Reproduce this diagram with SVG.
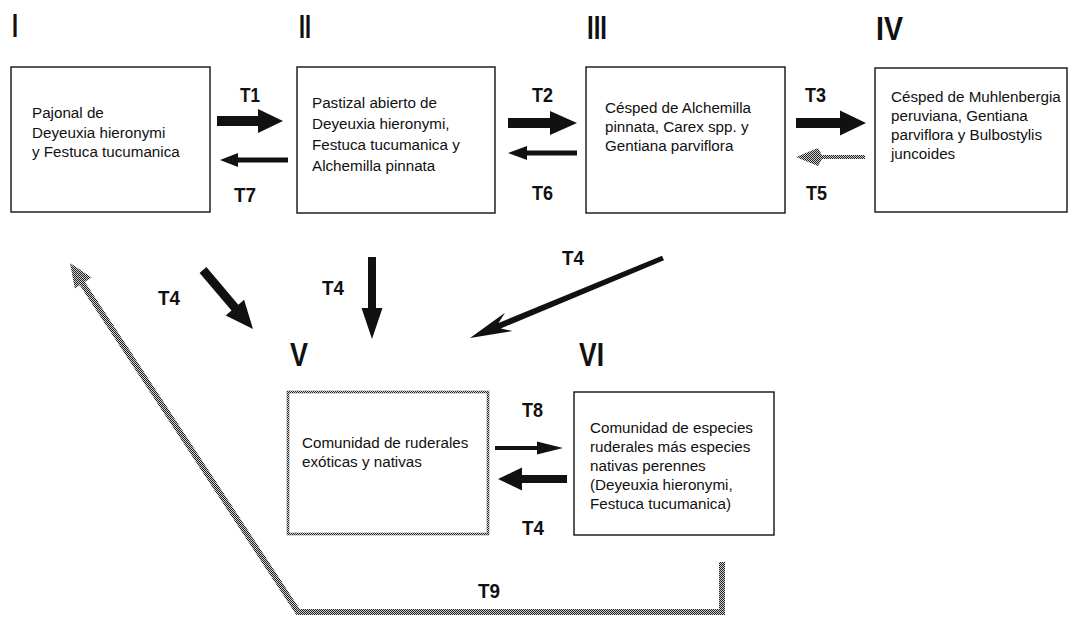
<svg xmlns="http://www.w3.org/2000/svg" width="1072" height="622" viewBox="0 0 1072 622">
<style>
  .box { fill: #fff; stroke: #111; stroke-width: 1.4; }
  .sbox { fill: #fff; stroke: url(#stip); stroke-width: 2.6; }
  .txt { font-family: "Liberation Sans", Arial, sans-serif; font-size: 15.2px; fill: #111; }
  .num { font-family: "Liberation Sans Narrow", "Liberation Sans", Arial, sans-serif; font-size: 33px; font-weight: bold; fill: #111; }
  .lbl { font-family: "Liberation Sans Narrow", "Liberation Sans", Arial, sans-serif; font-size: 19.5px; font-weight: bold; fill: #111; }
  .arr { fill: #111; }
  .sarr { fill: url(#stip); }
</style>
<defs>
  <pattern id="stip" width="2" height="2" patternUnits="userSpaceOnUse">
    <rect width="2" height="2" fill="#d0d0d0"/>
    <rect width="1" height="1" fill="#222"/>
    <rect x="1" y="1" width="1" height="1" fill="#222"/>
  </pattern>
</defs>
<rect width="1072" height="622" fill="#fff"/>

<g id="node-I">
  <text class="num" x="12" y="37" textLength="6" lengthAdjust="spacingAndGlyphs">I</text>
  <rect class="box" x="11" y="67" width="199" height="145"/>
  <text class="txt" x="32" y="118">Pajonal de</text>
  <text class="txt" x="32" y="138">Deyeuxia hieronymi</text>
  <text class="txt" x="32" y="157">y Festuca tucumanica</text>
</g>
<g id="node-II">
  <text class="num" x="299" y="38" textLength="12" lengthAdjust="spacingAndGlyphs">II</text>
  <rect class="box" x="297" y="67" width="198" height="146"/>
  <text class="txt" x="312" y="108">Pastizal abierto de</text>
  <text class="txt" x="312" y="129">Deyeuxia hieronymi,</text>
  <text class="txt" x="312" y="150">Festuca tucumanica y</text>
  <text class="txt" x="312" y="171">Alchemilla pinnata</text>
</g>
<g id="node-III">
  <text class="num" x="587" y="39" textLength="20" lengthAdjust="spacingAndGlyphs">III</text>
  <rect class="box" x="586" y="67" width="199" height="146"/>
  <text class="txt" x="605" y="113">Césped de Alchemilla</text>
  <text class="txt" x="605" y="132">pinnata, Carex spp. y</text>
  <text class="txt" x="605" y="151">Gentiana parviflora</text>
</g>
<g id="node-IV">
  <text class="num" x="876" y="40" textLength="27" lengthAdjust="spacingAndGlyphs">IV</text>
  <rect class="box" x="875" y="68" width="192" height="144"/>
  <text class="txt" x="891" y="102">Césped de Muhlenbergia</text>
  <text class="txt" x="891" y="121">peruviana, Gentiana</text>
  <text class="txt" x="891" y="140">parviflora y Bulbostylis</text>
  <text class="txt" x="891" y="159">juncoides</text>
</g>
<g id="node-V">
  <text class="num" x="290" y="366" textLength="18" lengthAdjust="spacingAndGlyphs">V</text>
  <rect class="sbox" x="288" y="392" width="200" height="142"/>
  <text class="txt" x="302" y="448">Comunidad de ruderales</text>
  <text class="txt" x="302" y="467">exóticas y nativas</text>
</g>
<g id="node-VI">
  <text class="num" x="579" y="366" textLength="25" lengthAdjust="spacingAndGlyphs">VI</text>
  <rect class="box" x="574" y="392" width="200" height="143"/>
  <text class="txt" x="590" y="433">Comunidad de especies</text>
  <text class="txt" x="590" y="452">ruderales más especies</text>
  <text class="txt" x="590" y="471">nativas perennes</text>
  <text class="txt" x="590" y="490">(Deyeuxia hieronymi,</text>
  <text class="txt" x="590" y="509">Festuca tucumanica)</text>
</g>

<g id="connectors">
  <!-- T1 -->
  <polygon class="arr" points="217,116 258,116 258,109 283,121 258,133 258,126 217,126"/>
  <text class="lbl" x="240" y="102" textLength="20" lengthAdjust="spacingAndGlyphs">T1</text>
  <!-- T7 -->
  <polygon class="arr" points="288,157.5 238,157.5 238,153 220,160 238,167 238,162.5 288,162.5"/>
  <text class="lbl" x="234" y="202" textLength="22" lengthAdjust="spacingAndGlyphs">T7</text>
  <!-- T2 -->
  <polygon class="arr" points="508,118 550,118 550,111 577,123 550,135 550,128 508,128"/>
  <text class="lbl" x="532" y="102" textLength="21" lengthAdjust="spacingAndGlyphs">T2</text>
  <!-- T6 -->
  <polygon class="arr" points="577,150.5 527,150.5 527,146 508,153 527,160 527,155.5 577,155.5"/>
  <text class="lbl" x="532" y="200" textLength="21" lengthAdjust="spacingAndGlyphs">T6</text>
  <!-- T3 -->
  <polygon class="arr" points="796,118 840,118 840,110.5 866,123 840,135.5 840,128 796,128"/>
  <text class="lbl" x="805" y="102" textLength="21" lengthAdjust="spacingAndGlyphs">T3</text>
  <!-- T5 -->
  <polygon class="sarr" points="865,155 822,155 818,148 796,157 818,166 822,159 865,159"/>
  <text class="lbl" x="806" y="200" textLength="21" lengthAdjust="spacingAndGlyphs">T5</text>
  <!-- T4 from I to V -->
  <polygon class="arr" points="206.4,267.1 238.3,304.7 244.1,299.8 253,329 225.7,315.4 231.5,310.5 199.6,272.9"/>
  <text class="lbl" x="158" y="305" textLength="22" lengthAdjust="spacingAndGlyphs">T4</text>
  <!-- T4 from II to V -->
  <polygon class="arr" points="368,257 376,257 376,308 382.5,308 372,339 361.5,308 368,308"/>
  <text class="lbl" x="322" y="295" textLength="22" lengthAdjust="spacingAndGlyphs">T4</text>
  <!-- T4 from III to V -->
  <polygon class="arr" points="662,255.7 498.5,322.9 505,312.7 470,338 512.6,331.1 500.7,328.5 664,260.3"/>
  <text class="lbl" x="562" y="265" textLength="22" lengthAdjust="spacingAndGlyphs">T4</text>
  <!-- T8 -->
  <polygon class="arr" points="495,446 537,446 537,441.5 563,448 537,454.5 537,450 495,450"/>
  <text class="lbl" x="522" y="417" textLength="21" lengthAdjust="spacingAndGlyphs">T8</text>
  <!-- T4 from VI to V -->
  <polygon class="arr" points="567,475 522,475 522,467.5 498,479 522,490.5 522,483 567,483"/>
  <text class="lbl" x="522" y="535" textLength="22" lengthAdjust="spacingAndGlyphs">T4</text>
  <!-- T9 from VI to I -->
  <polyline points="722,562 722,612 298,612 80,280" fill="none" stroke="url(#stip)" stroke-width="6" stroke-linejoin="miter"/>
  <polygon class="sarr" points="70,263 91.6,277.6 74.8,288.6"/>
  <text class="lbl" x="478" y="598" textLength="22" lengthAdjust="spacingAndGlyphs">T9</text>
</g>
</svg>
